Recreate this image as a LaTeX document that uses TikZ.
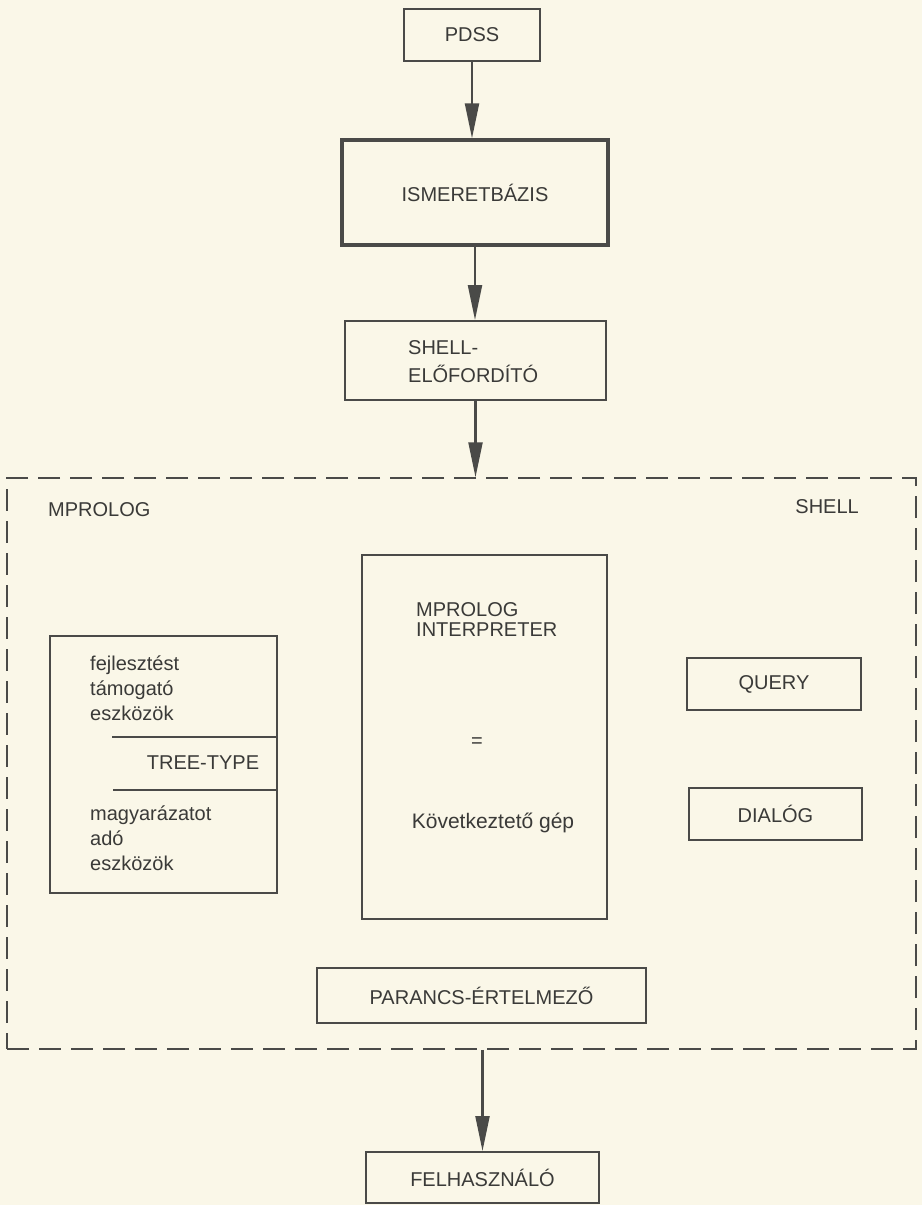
\documentclass[tikz,border=0pt]{standalone}
\usepackage{fontspec}
\setmainfont{Liberation Sans}
\usetikzlibrary{arrows.meta}
\definecolor{paper}{HTML}{FAF7E8}
\definecolor{ink}{HTML}{4A4A48}
\definecolor{txt}{HTML}{3A3A38}
\tikzset{
  box/.style={draw=ink, line width=2pt, rectangle, inner sep=0pt, text=txt,
    font=\fontsize{20}{25}\selectfont},
  lbl/.style={text=txt, inner sep=0pt, font=\fontsize{20}{25}\selectfont},
  flow/.style={draw=ink, line width=2.2pt, -{Triangle[length=35pt,width=14pt]}},
}
\begin{document}
\begin{tikzpicture}[x=1pt,y=-1pt]
\fill[paper] (0,0) rectangle (922,1205);
\useasboundingbox (0,0) rectangle (922,1205);

% top chain
\node[box, minimum width=136pt, minimum height=52pt] (pdss) at (472,35) {PDSS};
\node[box, line width=3.4pt, minimum width=266pt, minimum height=105pt] (ism) at (475,192.5) {ISMERETBÁZIS};
\node[box, minimum width=261pt, minimum height=79pt] (elo) at (475.5,360.5) {};
\node[lbl, anchor=west, align=left, font=\fontsize{20}{28}\selectfont] (elotxt) at (408,362) {SHELL-\\ELŐFORDÍTÓ};

% shell (dashed frame)
\node[draw=ink, line width=1.5pt, dash pattern=on 22pt off 10pt, rectangle, inner sep=0pt,
  minimum width=909pt, minimum height=571pt] (shell) at (461.5,763.5) {};
\node[lbl, anchor=west] (mprolog) at (48,510) {MPROLOG};
\node[lbl, anchor=east] (shelltxt) at (859,507) {SHELL};

% left tools box
\node[box, minimum width=227pt, minimum height=257pt] (tools) at (163.5,764.5) {};
\node[lbl, anchor=west, align=left] (fej) at (90,688) {fejlesztést\\támogató\\eszközök};
\coordinate (l1) at (112,737);
\coordinate (l2) at (113,790);
\draw[ink, line width=2pt] (l1) -- (l1 -| tools.east);
\draw[ink, line width=2pt] (l2) -- (l2 -| tools.east);
\node[lbl] (tree) at (203,763) {TREE-TYPE};
\node[lbl, anchor=west, align=left] (magy) at (90,838) {magyarázatot\\adó\\eszközök};

% interpreter
\node[box, line width=2.6pt, minimum width=245pt, minimum height=364pt] (interp) at (484.5,737) {};
\node[lbl, anchor=west, align=left, font=\fontsize{20}{20}\selectfont] (inttxt) at (416,620) {MPROLOG\\INTERPRETER};
\node[lbl] (eq) at (477,743) {=};
\node[lbl, font=\fontsize{21}{25}\selectfont] (kov) at (493,823) {Következtető gép};

% right boxes
\node[box, minimum width=174pt, minimum height=52pt] (query) at (774,684) {QUERY};
\node[box, minimum width=173pt, minimum height=52pt] (dialog) at (775.5,814) {DIALÓG};

% command interpreter
\node[box, minimum width=329pt, minimum height=55pt] (parancs) at (481.5,995.5) {PARANCS-ÉRTELMEZŐ};

% user
\node[box, minimum width=233pt, minimum height=51pt] (felh) at (482.5,1177.5) {FELHASZNÁLÓ};

% arrows
\draw[flow] (pdss.south) -- (pdss.south |- ism.north);
\draw[flow] (ism.south) -- (ism.south |- elo.north);
\draw[flow] (elo.south) -- (elo.south |- shell.north);
\draw[flow] (felh.north |- shell.south) -- (felh.north);
\end{tikzpicture}
\end{document}
